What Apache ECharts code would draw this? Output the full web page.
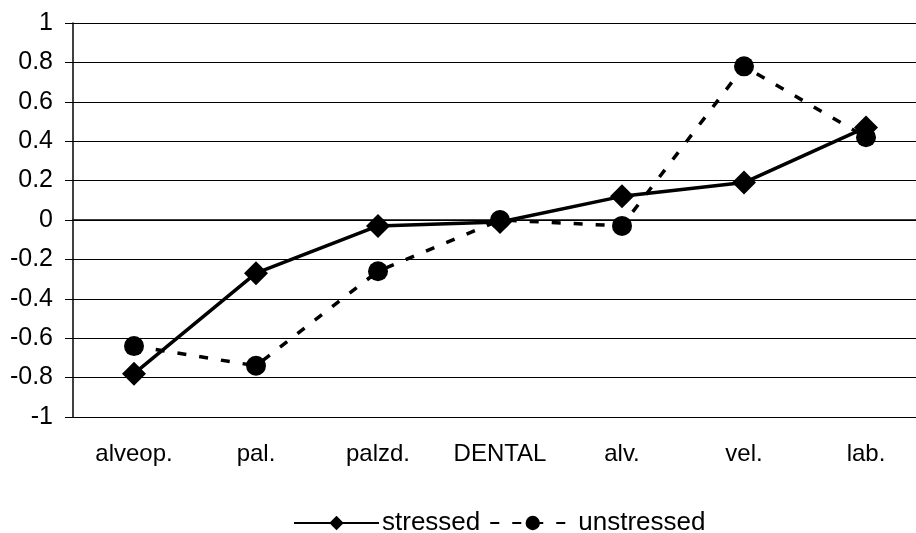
<!DOCTYPE html>
<html>
<head>
<meta charset="utf-8">
<script src="https://cdn.jsdelivr.net/npm/echarts@6/dist/echarts.min.js"></script>
<style>
html,body{margin:0;padding:0;background:#fff;}
#c{width:916px;height:533px;}
</style>
</head>
<body>
<div id="c"></div>
<script>
const categories = ['alveop.', 'pal.', 'palzd.', 'DENTAL', 'alv.', 'vel.', 'lab.'];
const stressed = [-0.78, -0.27, -0.03, -0.01, 0.12, 0.19, 0.47];
const unstressed = [-0.64, -0.74, -0.26, 0.0, -0.03, 0.78, 0.42];
const seriesNames = ['stressed', 'unstressed'];

const font = 'Liberation Sans, Arial, sans-serif';
const chart = echarts.init(document.getElementById('c'));
chart.setOption({
  animation: false,
  backgroundColor: '#fff',
  textStyle: { fontFamily: font, color: '#000' },
  grid: { left: 73, top: 23, width: 854, height: 394, containLabel: false, outerBoundsMode: 'none' },
  legend: {
    left: 288, top: 505,
    itemWidth: 85, itemHeight: 18, itemGap: 9,
    textStyle: { fontFamily: font, fontSize: 26, color: '#000', padding: [0, 0, 0, -2] },
    data: seriesNames
  },
  xAxis: {
    type: 'category',
    data: categories,
    boundaryGap: true,
    axisLine: { lineStyle: { color: '#000', width: 1.5 } },
    axisTick: { show: false },
    axisLabel: { fontFamily: font, fontSize: 24, color: '#000', margin: 25 },
    splitLine: { show: false }
  },
  yAxis: {
    type: 'value',
    min: -1, max: 1, interval: 0.2,
    axisLine: { show: true, lineStyle: { color: '#000', width: 1.5 } },
    axisTick: { show: true, inside: false, length: 8, lineStyle: { color: '#000' } },
    axisLabel: { fontFamily: font, fontSize: 25, color: '#000', margin: 20 },
    splitLine: { show: true, lineStyle: { color: '#000', width: 1 } }
  },
  series: [
    {
      name: seriesNames[0], type: 'line', data: stressed,
      symbol: 'diamond', symbolSize: 24,
      lineStyle: { color: '#000', width: 3.5, type: 'solid' },
      itemStyle: { color: '#000' }
    },
    {
      name: seriesNames[1], type: 'line', data: unstressed,
      symbol: 'circle', symbolSize: 20,
      lineStyle: { color: '#000', width: 3.5, type: [9, 13] },
      itemStyle: { color: '#000' }
    }
  ]
});
</script>
</body>
</html>
